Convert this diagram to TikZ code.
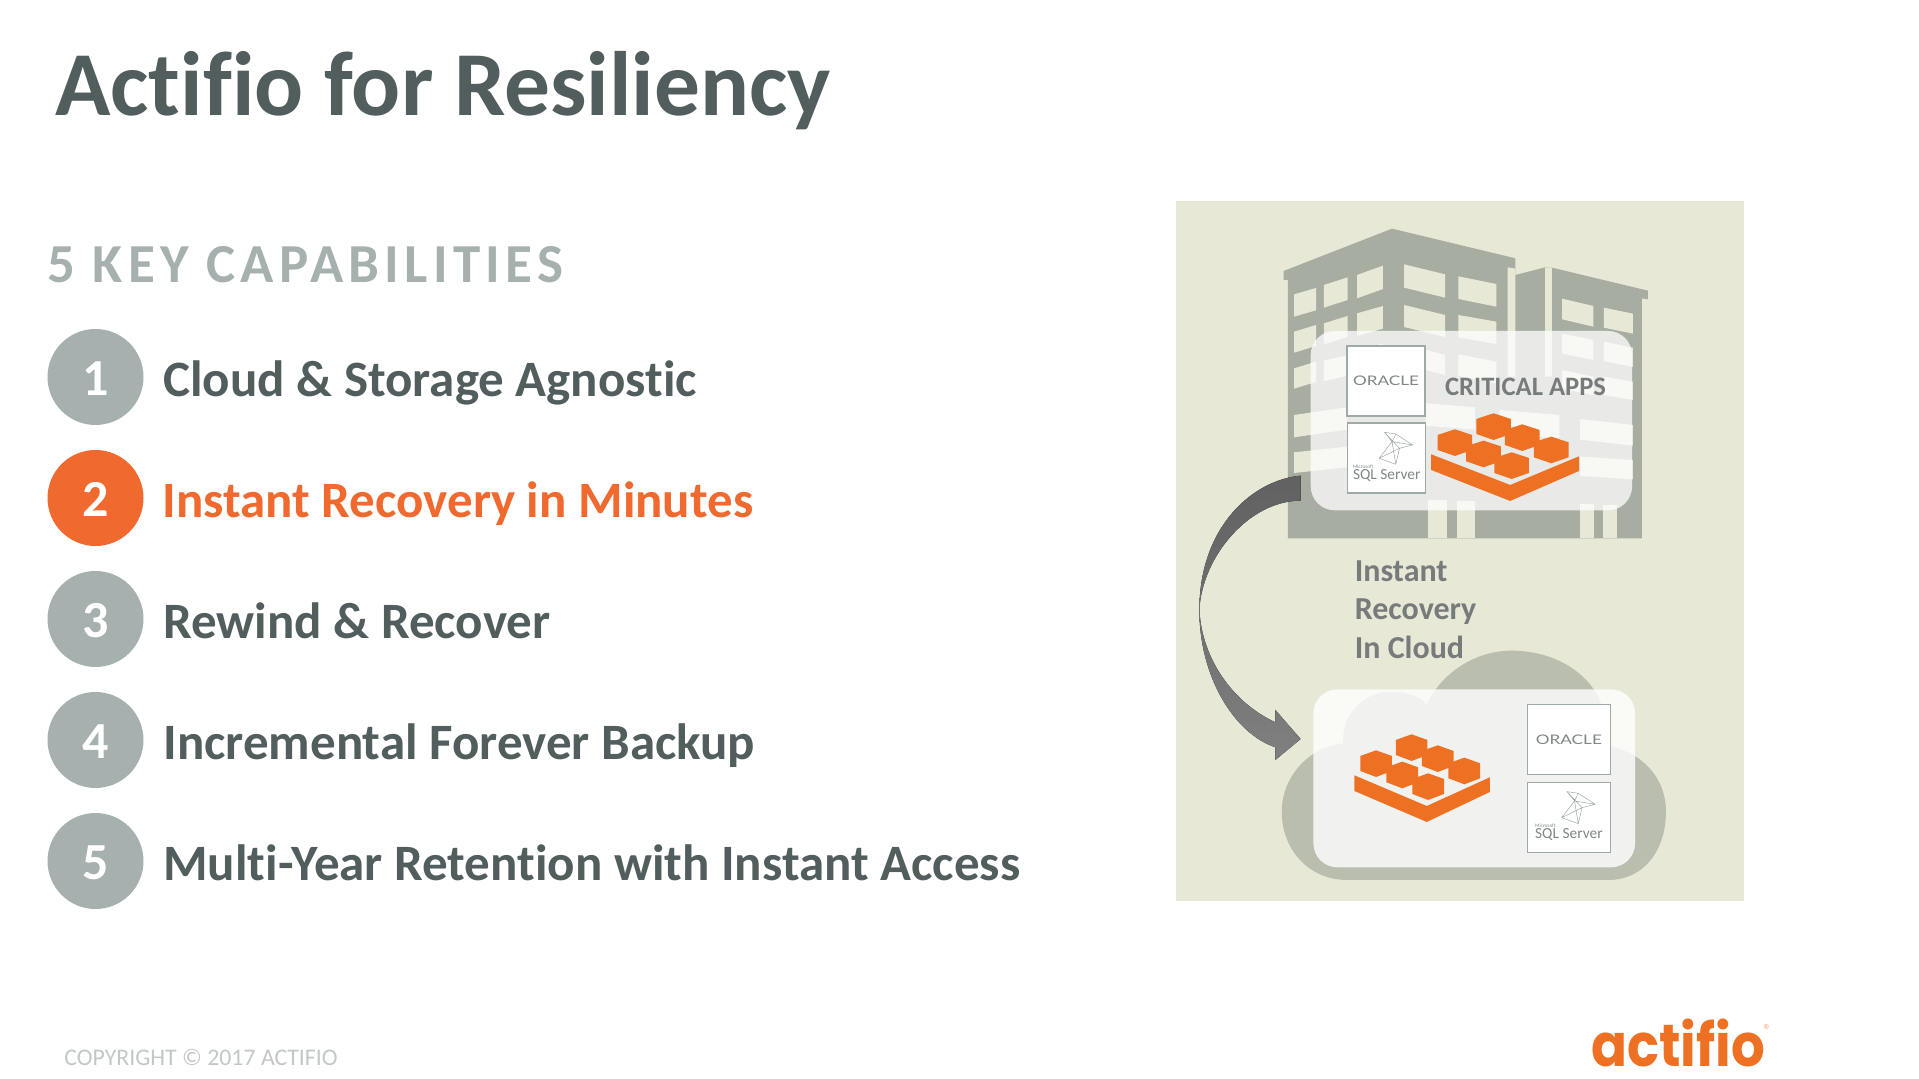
\documentclass[tikz,border=0pt]{standalone}
\usepackage{fontspec}
\setmainfont[Ligatures=NoCommon]{Carlito}
\newfontfamily\logofont{Poppins}
\newfontfamily\oraclefont[FakeStretch=1.3]{Lato}
\usetikzlibrary{calc,positioning,shapes.geometric}
\definecolor{slatetext}{HTML}{525E5E}
\definecolor{softslate}{HTML}{A6B1AF}
\definecolor{actorange}{HTML}{F0692E}
\definecolor{iconorange}{HTML}{EE7022}
\definecolor{panelcream}{HTML}{E7E8D6}
\definecolor{buildgray}{HTML}{A8ADA1}
\definecolor{cloudgray}{HTML}{BABEAF}
\definecolor{boxline}{HTML}{9DAAA5}
\definecolor{labelgray}{HTML}{777B7B}
\tikzset{
  badge/.style={circle,fill=softslate,minimum size=48pt,inner sep=0pt,text=white,text height=19pt,text depth=0pt,font=\bfseries\fontsize{26}{26}\selectfont},
  itemtext/.style={anchor=base west,inner sep=0pt,text=slatetext,font=\bfseries\fontsize{25.5}{28}\selectfont},
  glassbox/.style={fill=white,fill opacity=.75,rounded corners=12pt},
  appbox/.style={draw=boxline,line width=.7pt,fill=white,inner sep=0pt,minimum width=39pt,minimum height=35pt},
  appname/.style={inner sep=0pt,text=boxline!80!black},
  pics/hexblock/.style={code={
    \fill[iconorange] (0,0) -- (210,92) -- (393,6) -- (393,50) -- (210,140) -- (0,47) -- cycle;
    \foreach \hx/\hy in {63/-35,166/-83,242/-50,139/-1,319/-13,214/34}
      \fill[iconorange] (\hx,\hy-40) -- (\hx+46,\hy-23) -- (\hx+46,\hy+22) -- (\hx,\hy+40)
        -- (\hx-46,\hy+22) -- (\hx-46,\hy-23) -- cycle;
  }},
  pics/sqlmark/.style={code={
    \draw[boxline,line width=.25pt] (0,0) -- (30,5) -- (75,38) -- (40,48) -- (30,96) -- (-14,78) -- (20,28) -- cycle
      (0,0) -- (40,48) (30,5) -- (20,28) -- (75,38) (20,28) -- (30,96) (-14,78) -- (40,48);
  }}
}
\begin{document}
\begin{tikzpicture}[x=.5pt,y=-.5pt]
  \useasboundingbox (0,0) rectangle (1919,1079);

  \node (title) [anchor=west,inner sep=0pt,text=slatetext,font=\bfseries\fontsize{45.7}{50}\selectfont] at (55,91) {Actifio for Resiliency};
  \node (keyhead) [anchor=west,inner sep=0pt,text=softslate,font=\bfseries\fontsize{27.5}{30}\selectfont\addfontfeature{LetterSpace=9.5}] at (47,265) {5 KEY CAPABILITIES};

  \foreach \n/\y/\lab in {1/377/{Cloud \& Storage Agnostic},3/619/{Rewind \& Recover},4/740/{Incremental Forever Backup},5/861/{Multi-Year Retention with Instant Access}}
  {
    \node (badge_\n) [badge] at (95.5,\y) {\n};
    \node (item_\n) [itemtext] at (163,\y+19.5) {\lab};
  }
  \node (badge_2) [badge,fill=actorange] at (95.5,498) {2};
  \node (item_2) [itemtext,text=actorange] at (162,517.5) {Instant Recovery in Minutes};

  \node (copyright) [anchor=west,inner sep=0pt,text=softslate!70,font=\fontsize{11.9}{13}\selectfont] at (64,1057) {COPYRIGHT © 2017 ACTIFIO};
  \node (logo) [anchor=base west,inner sep=0pt,text=iconorange,yscale=1.12,transform shape,font=\logofont\bfseries\fontsize{26.5}{30}\selectfont] at (1591,1066) {actifio};
  \node (logo_mark) [anchor=west,inner sep=0pt,text=iconorange!60,font=\fontsize{8}{8}\selectfont] at (1763,1030) {®};

  \fill[panelcream] (1176,201) rectangle (1744,901);

  % building part, numbers read off the crop
  \begin{scope}[shift={(1170,195)},xscale=.3763,yscale=.3333]
    \fill[buildgray] (302,228) -- (590,101) -- (918,190) -- (918,240) -- (997,217) -- (1015,218)
      -- (1270,287) -- (1270,313) -- (1254,310) -- (1254,1030) -- (313,1030) -- (313,255) -- (302,255) -- cycle;
    \foreach \xa/\xb/\ya/\yb/\hh in {330/388/298/279/67,330/388/410/390/63,330/388/520/500/61,
      409/472/270/247/68,409/472/385/363/63,409/472/497/480/62,
      497/566/240/212/70,497/566/355/333/68,497/566/470/445/62,
      622/731/208/238/70,622/731/330/360/66,680/731/465/480/60,
      766/867/244/267/68,766/867/360/380/67,766/867/478/500/65,
      330/470/660/637/67,330/470/772/755/62,680/810/625/637/67,875/1035/645/660/70,
      1090/1230/672/690/62,1090/1230/785/795/58,
      1042/1125/311/333/62,1153/1230/338/356/60,1042/1125/416/435/60,1153/1230/440/458/58,
      1042/1125/525/545/56,1153/1230/545/560/55}
    {
      \fill[panelcream] (\xa,\ya) -- (\xb,\yb) -- (\xb,\yb+\hh) -- (\xa,\ya+\hh) -- cycle;
    }
    \fill[panelcream] (897,217) -- (918,221) -- (918,545) -- (897,545) -- cycle;
    \fill[panelcream] (997,217) -- (1015,218) -- (1015,545) -- (997,545) -- cycle;
    \foreach \xa/\xb/\ya in {686/736/915,763/811/918,1090/1128/928,1150/1187/930}
      \fill[panelcream] (\xa,\ya) rectangle (\xb,1030);

    \fill[glassbox] (374,408) rectangle (1228,946);
    \node (oracle_top) [appbox] at (574,558) {};
    \node (oracle_top_label) [appname,font=\oraclefont\fontsize{6.6}{7}\selectfont] at (oracle_top) {ORACLE};
    \node (sql_top) [appbox] at (576,789) {};
    \node (sql_top_label) [appname,above=6pt of sql_top.south,font=\fontsize{7.7}{8}\selectfont] {SQL Server};
    \node (sql_top_vendor) [appname,anchor=south west,font=\fontsize{2.6}{3}\selectfont] at (sql_top_label.north west) {Microsoft};
    \pic[xscale=.3763,yscale=.3333] at (570,712) {sqlmark};
    \node (apps_label) [text=labelgray,font=\bfseries\fontsize{13.3}{15}\selectfont] at (945,575) {CRITICAL APPS};
    \pic[xscale=.3763,yscale=.3333] at (694,778) {hexblock};
  \end{scope}

  % cloud part
  \begin{scope}[shift={(1170,550)},xscale=.3763,yscale=.3333]
    \fill[cloudgray] (470,990) .. controls (370,990) and (297,900) .. (297,785)
      .. controls (297,680) and (370,590) .. (460,580)
      .. controls (455,490) and (520,425) .. (585,425)
      .. controls (630,425) and (665,440) .. (682,465)
      .. controls (720,370) and (810,302) .. (908,302)
      .. controls (1030,302) and (1130,380) .. (1150,480) -- (1150,585)
      .. controls (1250,600) and (1318,680) .. (1318,785)
      .. controls (1318,900) and (1260,990) .. (1165,990) -- cycle;
    \fill[glassbox,fill opacity=.8] (381,418) rectangle (1236,952);
    \node (oracle_low) [appbox,minimum width=41.5pt] at (1060,568) {};
    \node (oracle_low_label) [appname,font=\oraclefont\fontsize{6.6}{7}\selectfont] at (oracle_low) {ORACLE};
    \node (sql_low) [appbox,minimum width=41.5pt] at (1060,802) {};
    \node (sql_low_label) [appname,above=6pt of sql_low.south,font=\fontsize{7.7}{8}\selectfont] {SQL Server};
    \node (sql_low_vendor) [appname,anchor=south west,font=\fontsize{2.6}{3}\selectfont] at (sql_low_label.north west) {Microsoft};
    \pic[xscale=.3763,yscale=.3333] at (1055,725) {sqlmark};
    \pic[xscale=.3447,yscale=.3333] at (490,676) {hexblock};
    \fill[top color=black!62,bottom color=black!50] (347,-223) .. controls (220,-210) and (78,-70) .. (78,180)
      .. controls (78,380) and (170,550) .. (280,592) -- (280,630) -- (347,567) -- (280,480) -- (280,517)
      .. controls (170,460) and (85,330) .. (78,180)
      .. controls (85,20) and (210,-148) .. (347,-148) -- cycle;
    \node (recovery_label) [anchor=north west,inner sep=0pt,align=left,text=labelgray,font=\bfseries\fontsize{16}{19.3}\selectfont] at (490,30) {Instant\\Recovery\\In Cloud};
  \end{scope}
\end{tikzpicture}
\end{document}
